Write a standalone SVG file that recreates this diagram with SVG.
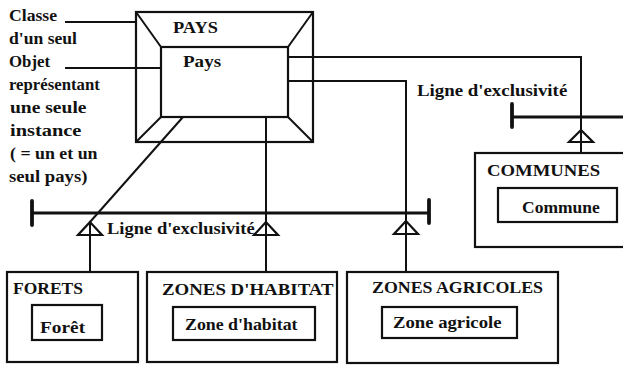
<svg xmlns="http://www.w3.org/2000/svg" width="623" height="367" viewBox="0 0 623 367">
  <style>
    .bg { fill: #ffffff; }
    .box { fill: none; stroke: #111111; stroke-width: 2.2; }
    .inner { fill: #ffffff; stroke: #111111; stroke-width: 2.2; }
    .ln { fill: none; stroke: #111111; stroke-width: 2; }
    .bar { fill: none; stroke: #111111; stroke-width: 3.2; }
    .tick { fill: none; stroke: #111111; stroke-width: 3.8; stroke-linecap: round; }
    .tri { fill: none; stroke: #111111; stroke-width: 2.2; stroke-linejoin: miter; }
    text { font-family: "Liberation Serif", "Times New Roman", serif; font-size: 17px; font-weight: bold; fill: #111111; }
  </style>

  <rect class="bg" x="0" y="0" width="623" height="367"/>

  <!-- connectors -->
  <g id="connectors">
    <!-- annotation leaders -->
    <line class="ln" x1="65" y1="22" x2="136" y2="22"/>
    <line class="ln" x1="65" y1="68" x2="161" y2="68"/>

    <!-- PAYS to COMMUNES -->
    <polyline class="ln" points="288,57 581,57 581,153"/>
    <line class="bar" x1="512" y1="117" x2="626" y2="117"/>
    <line class="tick" x1="512" y1="104" x2="512" y2="127"/>
    <polygon class="tri" points="581,130 569,142 593,142"/>

    <!-- PAYS to ZONES AGRICOLES -->
    <polyline class="ln" points="288,81 406,81 406,272"/>

    <!-- PAYS to FORETS / ZONES D'HABITAT -->
    <line class="ln" x1="183" y1="117" x2="90" y2="222"/>
    <line class="ln" x1="90" y1="222" x2="90" y2="272"/>
    <line class="ln" x1="266" y1="117" x2="266" y2="272"/>

    <!-- exclusivity bar -->
    <line class="bar" x1="32" y1="213" x2="429" y2="213"/>
    <line class="tick" x1="32" y1="201" x2="32" y2="225"/>
    <line class="tick" x1="429" y1="200" x2="429" y2="223"/>

    <!-- generalisation triangles -->
    <polygon class="tri" points="90,222 78,235 102,235"/>
    <polygon class="tri" points="266,222 254,235 278,235"/>
    <polygon class="tri" points="406,221 394,234 418,234"/>

    <text transform="translate(417,96) scale(1.11,1)">Ligne d'exclusivité</text>
    <text transform="translate(107,234) scale(1.09,1)">Ligne d'exclusivité</text>
  </g>

  <!-- annotation text -->
  <g id="annotation">
    <text transform="translate(9,21) scale(1.04,1)">Classe</text>
    <text transform="translate(9,44) scale(1.035,1)">d'un seul</text>
    <text transform="translate(9,67) scale(0.99,1)">Objet</text>
    <text transform="translate(9,90) scale(0.985,1)">représentant</text>
    <text transform="translate(10,113) scale(1.15,1)">une seule</text>
    <text transform="translate(10,136) scale(1.2,1)">instance</text>
    <text transform="translate(10,159) scale(1.05,1)">( = un et un</text>
    <text transform="translate(9,182) scale(1.1,1)">seul pays)</text>
  </g>

  <!-- single-object class -->
  <g id="pays">
    <rect class="box" x="136" y="12" width="177" height="130"/>
    <rect class="box" x="161" y="47" width="127" height="70"/>
    <line class="ln" x1="136" y1="12" x2="161" y2="47"/>
    <line class="ln" x1="313" y1="12" x2="288" y2="47"/>
    <line class="ln" x1="136" y1="142" x2="161" y2="117"/>
    <line class="ln" x1="313" y1="142" x2="288" y2="117"/>
    <text transform="translate(173,33) scale(1.08,1)">PAYS</text>
    <text transform="translate(183,67) scale(1.12,1)">Pays</text>
  </g>

  <g id="communes">
    <rect class="inner" x="475" y="153" width="155" height="94"/>
    <rect class="inner" x="498" y="188" width="119" height="34"/>
    <text transform="translate(487,176) scale(1.1,1)">COMMUNES</text>
    <text transform="translate(522,213) scale(1.03,1)">Commune</text>
  </g>

  <g id="forets">
    <rect class="inner" x="7" y="272" width="131" height="90"/>
    <rect class="inner" x="32" y="305" width="70" height="35"/>
    <text transform="translate(13,294) scale(1.03,1)">FORETS</text>
    <text transform="translate(40,333) scale(1.14,1)">Forêt</text>
  </g>

  <g id="zones-habitat">
    <rect class="inner" x="147" y="272" width="190" height="90"/>
    <rect class="inner" x="173" y="307" width="142" height="33"/>
    <text transform="translate(162,295) scale(1.11,1)">ZONES D'HABITAT</text>
    <text transform="translate(185,330) scale(1.05,1)">Zone d'habitat</text>
  </g>

  <g id="zones-agricoles">
    <rect class="inner" x="347" y="272" width="211" height="91"/>
    <rect class="inner" x="382" y="307" width="135" height="31"/>
    <text transform="translate(372,293) scale(1.05,1)">ZONES AGRICOLES</text>
    <text transform="translate(393,328) scale(1.1,1)">Zone agricole</text>
  </g>
</svg>
